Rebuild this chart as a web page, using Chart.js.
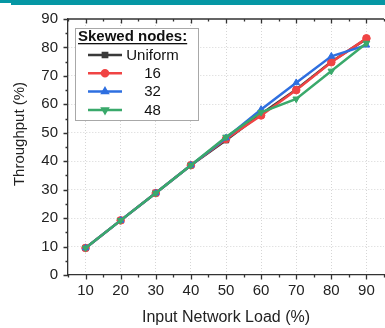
<!DOCTYPE html>
<html>
<head>
<meta charset="utf-8">
<script src="https://cdn.jsdelivr.net/npm/chart.js@4/dist/chart.umd.min.js"></script>
<style>
  html, body { margin: 0; padding: 0; background: #fff; overflow: hidden; }
  #wrap { position: relative; width: 385px; height: 328px; overflow: hidden; }
  .bar { position: absolute; background: #0597a4; }
  canvas { position: absolute; left: 0; top: 0; }
</style>
</head>
<body>
<div id="wrap">
  <canvas id="chart" width="391" height="328"></canvas>
  <div class="bar" style="left:0;top:0;width:385px;height:3px"></div>
  <div class="bar" style="left:11px;top:0;width:374px;height:5px"></div>
</div>
<script>
const loads = [10, 20, 30, 40, 50, 60, 70, 80, 90];
const uniform = [9.5, 19.2, 28.8, 38.6, 47.4, 56.6, 65.2, 75.0, 83.0];
const skew16 = [9.5, 19.2, 28.8, 38.6, 47.8, 56.1, 65.0, 74.8, 83.2];
const skew32 = [9.5, 19.2, 28.8, 38.6, 48.2, 58.2, 67.6, 76.9, 80.8];
const skew48 = [9.5, 19.2, 28.8, 38.6, 48.5, 57.2, 61.9, 71.7, 81.5];

const xTicks = [10, 20, 30, 40, 50, 60, 70, 80, 90];
const yTicks = [0, 10, 20, 30, 40, 50, 60, 70, 80, 90];
const legendTitle = 'Skewed nodes:';
const xTitle = 'Input Network Load (%)';
const yTitle = 'Throughput (%)';

const FONT = '"Liberation Sans", Arial, sans-serif';
const AXIS = '#333333';

function series(label, data, color, style, rotation, order) {
    return {
        label: label,
        data: loads.map((x, i) => ({ x: x, y: data[i] })),
        borderColor: color,
        backgroundColor: color,
        borderWidth: 2.5,
        pointStyle: style,
        pointRotation: rotation,
        pointRadius: 3.8,
        pointBorderWidth: 1,
        order: order,
        tension: 0
    };
}

const datasets = [
    series('Uniform', uniform, '#3a3a3a', 'rect', 0, 4),
    series('16', skew16, '#f04444', 'circle', 0, 3),
    series('32', skew32, '#2e6fe0', 'triangle', 0, 2),
    series('48', skew48, '#3aa96b', 'triangle', 180, 1)
];

// minor ticks every 5, labels only on the major values
function withMinor(min, max) {
    const t = [];
    for (let v = min; v <= max; v += 5) t.push({ value: v });
    return t;
}

// frame, tick marks, y title and the boxed legend
const decorations = {
    id: 'decorations',
    beforeDatasetsDraw(chart) {
        const { ctx, chartArea: a, scales: { x, y } } = chart;
        ctx.save();
        ctx.strokeStyle = AXIS;
        ctx.lineWidth = 1.3;
        ctx.beginPath();
        ctx.moveTo(a.left, a.top);
        ctx.lineTo(a.right, a.top);
        x.ticks.forEach(t => {
            const px = Math.round(x.getPixelForValue(t.value)) + 0.5;
            const len = xTicks.includes(t.value) ? 4.5 : 2.5;
            ctx.moveTo(px, a.bottom);
            ctx.lineTo(px, a.bottom + len);
            ctx.moveTo(px, a.top);
            ctx.lineTo(px, a.top + len);
        });
        y.ticks.forEach(t => {
            const py = Math.round(y.getPixelForValue(t.value)) + 0.5;
            const len = yTicks.includes(t.value) ? 4.5 : 2.5;
            ctx.moveTo(a.left, py);
            ctx.lineTo(a.left - len, py);
        });
        ctx.stroke();
        ctx.restore();
    },
    afterDraw(chart) {
        const ctx = chart.ctx;
        ctx.save();

        ctx.translate(20, 134);
        ctx.rotate(-Math.PI / 2);
        ctx.fillStyle = '#222';
        ctx.font = '15px ' + FONT;
        ctx.textAlign = 'center';
        ctx.textBaseline = 'middle';
        ctx.fillText(yTitle, 0, 0);
        ctx.setTransform(1, 0, 0, 1, 0, 0);

        // legend box
        const bx = 75.5, by = 28.5, bw = 123, bh = 92;
        ctx.fillStyle = '#fff';
        ctx.fillRect(bx, by, bw, bh);
        ctx.strokeStyle = '#a8a8a8';
        ctx.lineWidth = 1;
        ctx.strokeRect(bx, by, bw, bh);

        ctx.fillStyle = '#111';
        ctx.font = 'bold 15px ' + FONT;
        ctx.textAlign = 'left';
        ctx.textBaseline = 'middle';
        ctx.fillText(legendTitle, 78, 37);
        const tw = ctx.measureText(legendTitle).width;
        ctx.fillRect(78, 43, tw, 1.3);

        ctx.font = '15px ' + FONT;
        ctx.textAlign = 'center';
        chart.data.datasets.forEach((ds, i) => {
            const cy = 55 + i * 18.3;
            ctx.strokeStyle = ds.borderColor;
            ctx.lineWidth = 2.5;
            ctx.beginPath();
            ctx.moveTo(88, cy);
            ctx.lineTo(122, cy);
            ctx.stroke();
            ctx.fillStyle = ds.backgroundColor;
            Chart.helpers.drawPoint(ctx, {
                pointStyle: ds.pointStyle,
                rotation: ds.pointRotation,
                radius: 3,
                borderWidth: 1
            }, 105, cy);
            ctx.fillStyle = '#111';
            ctx.fillText(ds.label, 152.5, cy + 0.5);
        });
        ctx.restore();
    }
};

new Chart(document.getElementById('chart'), {
    type: 'line',
    data: { datasets: datasets },
    options: {
        responsive: false,
        animation: false,
        devicePixelRatio: 1,
        layout: { padding: { top: 15, right: 0, left: 0, bottom: 0 } },
        plugins: { legend: { display: false }, tooltip: { enabled: false } },
        scales: {
            x: {
                type: 'linear',
                min: 5,
                max: 95,
                afterBuildTicks: s => { s.ticks = withMinor(5, 95); },
                afterFit: s => { s.height = 53; },
                ticks: {
                    autoSkip: false,
                    maxRotation: 0,
                    padding: 7,
                    color: '#222',
                    font: { family: FONT, size: 15 },
                    callback: v => xTicks.includes(v) ? String(v) : ''
                },
                grid: {
                    drawTicks: false,
                    lineWidth: 1,
                    color: c => (c.tick && xTicks.includes(c.tick.value)) ? '#d6d6d6' : 'rgba(0,0,0,0)'
                },
                border: { display: true, color: AXIS, width: 1.3, dash: [1, 2] },
                title: {
                    display: true,
                    text: xTitle,
                    color: '#222',
                    font: { family: FONT, size: 16 },
                    padding: { top: 4, bottom: 1 }
                }
            },
            y: {
                min: 0,
                max: 90,
                afterBuildTicks: s => { s.ticks = withMinor(0, 90); },
                afterFit: s => { s.width = 68; },
                ticks: {
                    autoSkip: false,
                    padding: 10,
                    color: '#222',
                    font: { family: FONT, size: 15 },
                    callback: v => yTicks.includes(v) ? String(v) : ''
                },
                grid: {
                    drawTicks: false,
                    lineWidth: 1,
                    color: c => (c.tick && yTicks.includes(c.tick.value) && c.tick.value !== 0 && c.tick.value !== 90) ? '#d6d6d6' : 'rgba(0,0,0,0)'
                },
                border: { display: true, color: AXIS, width: 1.3, dash: [1, 2] }
            }
        }
    },
    plugins: [decorations]
});
</script>
</body>
</html>
